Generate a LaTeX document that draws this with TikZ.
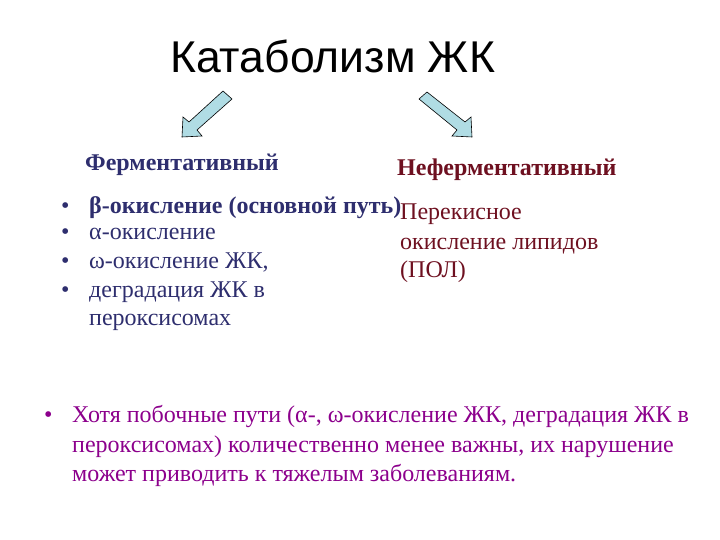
\documentclass[tikz,border=0pt]{standalone}
\usepackage{fontspec}
\setmainfont{Liberation Serif}
\newfontfamily\titlefont{Liberation Sans}

\definecolor{navytext}{RGB}{46,46,110}
\definecolor{redtext}{RGB}{110,16,32}
\definecolor{purpletext}{RGB}{140,0,140}
\definecolor{arrowfill}{RGB}{176,220,228}

\tikzset{
  txt/.style={anchor=base west,inner sep=0pt,font=\fontsize{24}{28}\selectfont},
  boldtxt/.style={txt,font=\bfseries\fontsize{24}{28}\selectfont},
  blockarrow/.style={draw=black,fill=arrowfill,line width=0.6pt,line join=miter}
}

\begin{document}
\begin{tikzpicture}[x=1pt,y=-1pt]
\useasboundingbox (0,0) rectangle (720,540);

% Title
\node (title) [anchor=base west,inner sep=0pt,font=\titlefont\fontsize{44.5}{50}\selectfont] at (170,73) {Катаболизм ЖК};

% Block arrows
\draw [blockarrow] (223,91) -- (232,99) -- (197,130) -- (202,136) -- (182,137) -- (183,117) -- (189,122) -- cycle;
\draw [blockarrow] (427,92) -- (419,99) -- (457,130) -- (452,136) -- (472,137) -- (471,117) -- (465,122) -- cycle;

% Headings
\node (enz) [boldtxt,text=navytext] at (85,171) {Ферментативный};
\node (nonenz) [boldtxt,text=redtext] at (397,176) {Неферментативный};

% Left list
\foreach \y/\t [count=\i] in {214/{\textbf{β-окисление (основной путь)}},240/{α-окисление},268/{ω-окисление ЖК,},297/{деградация ЖК в}}{
  \node (dot\i) [txt,text=navytext] at (61,\y) {•};
  \node (item\i) [txt,text=navytext] at (89,\y) {\t};
}
\node (item5) [txt,text=navytext] at (89,325) {пероксисомах};

% Right text
\node (pol1) [txt,text=redtext] at (400,220) {Перекисное};
\node (pol2) [txt,text=redtext] at (400,249) {окисление липидов};
\node (pol3) [txt,text=redtext] at (400,277) {(ПОЛ)};

% Bottom note
\node (ndot) [txt,text=purpletext] at (44,422) {•};
\node (note1) [txt,text=purpletext] at (72,422) {Хотя побочные пути (α-, ω-окисление ЖК, деградация ЖК в};
\node (note2) [txt,text=purpletext] at (72,452) {пероксисомах) количественно менее важны, их нарушение};
\node (note3) [txt,text=purpletext] at (72,481) {может приводить к тяжелым заболеваниям.};

\end{tikzpicture}
\end{document}
